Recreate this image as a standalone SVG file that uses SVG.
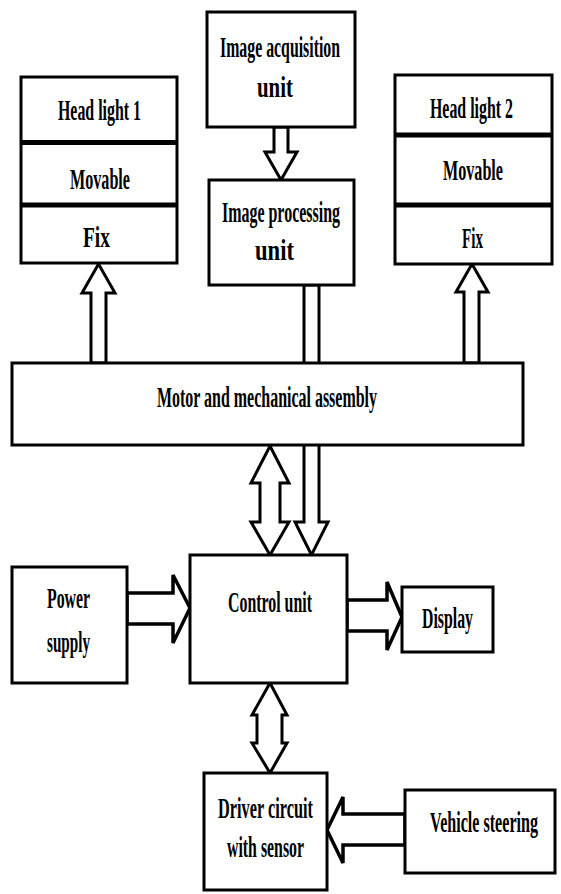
<svg xmlns="http://www.w3.org/2000/svg" width="561" height="894" viewBox="0 0 561 894">
<style>
.box{fill:#fff;stroke:#000;stroke-width:3}
.div{stroke:#000;stroke-width:5}
.arr{fill:#fff;stroke:#000;stroke-width:3;stroke-linejoin:miter}
.harr{fill:#fff;stroke:#000;stroke-width:3.5;stroke-linejoin:miter}
text{font-family:"Liberation Serif","Times New Roman","DejaVu Serif",serif;font-weight:bold;font-size:30px;fill:#000}
</style>
<rect width="561" height="894" fill="#fff"/>
<g id="connectors">
<polygon class="arr" points="274,127 288,127 288,152 297,152 281,180 265,152 274,152"/>
<polygon class="arr" points="304,285 319,285 319,522 328,522 311.5,555 295,522 304,522"/>
<polygon class="arr" points="98.5,264 115,293 106,293 106,363 91,363 91,293 82,293"/>
<polygon class="arr" points="472,264 488,292 479,292 479,363 464,363 464,292 456,292"/>
<polygon class="arr" points="270,446 289,483 280,483 280,522 289,522 270,555 251,522 260,522 260,483 251,483"/>
<polygon class="arr" points="270,683 287,715 282,715 282,743 287,743 270,773 252,743 257,743 257,715 252,715"/>
<polygon class="harr" points="127,593 173,593 173,575 190,608 173,643 173,624 127,624"/>
<polygon class="harr" points="347,600 387,600 387,582 402,617 387,650 387,631 347,631"/>
<polygon class="harr" points="405,814 343,814 343,797 327,830 343,863 343,845 405,845"/>
</g>
<g id="headlight1">
<rect class="box" x="21" y="77" width="156" height="186"/>
<line class="div" x1="21" y1="142.5" x2="177" y2="142.5"/>
<line class="div" x1="21" y1="205" x2="177" y2="205"/>
<text transform="translate(58,120) scale(0.55,1)" textLength="150.9" lengthAdjust="spacingAndGlyphs">Head light 1</text>
<text transform="translate(70,189) scale(0.55,1)" textLength="109.1" lengthAdjust="spacingAndGlyphs">Movable</text>
<text transform="translate(83,247) scale(0.55,1)" textLength="49.1" lengthAdjust="spacingAndGlyphs">Fix</text>
</g>
<g id="image-acquisition">
<rect class="box" x="207" y="12" width="148" height="115"/>
<text transform="translate(220,57) scale(0.55,1)" textLength="218.2" lengthAdjust="spacingAndGlyphs">Image acquisition</text>
<text transform="translate(257,97) scale(0.55,1)" textLength="65.5" lengthAdjust="spacingAndGlyphs">unit</text>
</g>
<g id="image-processing">
<rect class="box" x="209" y="180" width="145" height="105"/>
<text transform="translate(222,222) scale(0.55,1)" textLength="214.5" lengthAdjust="spacingAndGlyphs">Image processing</text>
<text transform="translate(255,260) scale(0.55,1)" textLength="70.9" lengthAdjust="spacingAndGlyphs">unit</text>
</g>
<g id="headlight2">
<rect class="box" x="395" y="75" width="157" height="189"/>
<line class="div" x1="395" y1="135" x2="552" y2="135"/>
<line class="div" x1="395" y1="205" x2="552" y2="205"/>
<text transform="translate(430,118) scale(0.55,1)" textLength="150.9" lengthAdjust="spacingAndGlyphs">Head light 2</text>
<text transform="translate(443,180) scale(0.55,1)" textLength="109.1" lengthAdjust="spacingAndGlyphs">Movable</text>
<text transform="translate(462,248) scale(0.55,1)" textLength="38.2" lengthAdjust="spacingAndGlyphs">Fix</text>
</g>
<g id="motor">
<rect class="box" x="12" y="363" width="511" height="82"/>
<text transform="translate(157,407) scale(0.55,1)" textLength="400" lengthAdjust="spacingAndGlyphs">Motor and mechanical assembly</text>
</g>
<g id="power-supply">
<rect class="box" x="12" y="567" width="115" height="116"/>
<text transform="translate(47,608) scale(0.55,1)" textLength="78.2" lengthAdjust="spacingAndGlyphs">Power</text>
<text transform="translate(47,652) scale(0.55,1)" textLength="78.2" lengthAdjust="spacingAndGlyphs">supply</text>
</g>
<g id="control-unit">
<rect class="box" x="190" y="555" width="157" height="128"/>
<text transform="translate(228,612) scale(0.55,1)" textLength="152.7" lengthAdjust="spacingAndGlyphs">Control unit</text>
</g>
<g id="display">
<rect class="box" x="402" y="587" width="91" height="65"/>
<text transform="translate(422,628) scale(0.55,1)" textLength="92.7" lengthAdjust="spacingAndGlyphs">Display</text>
</g>
<g id="driver-circuit">
<rect class="box" x="204" y="773" width="123" height="117"/>
<text transform="translate(218,818) scale(0.55,1)" textLength="172.7" lengthAdjust="spacingAndGlyphs">Driver circuit</text>
<text transform="translate(227,857) scale(0.55,1)" textLength="140" lengthAdjust="spacingAndGlyphs">with sensor</text>
</g>
<g id="vehicle-steering">
<rect class="box" x="405" y="790" width="150" height="83"/>
<text transform="translate(430,832) scale(0.55,1)" textLength="196.4" lengthAdjust="spacingAndGlyphs">Vehicle steering</text>
</g>
</svg>
